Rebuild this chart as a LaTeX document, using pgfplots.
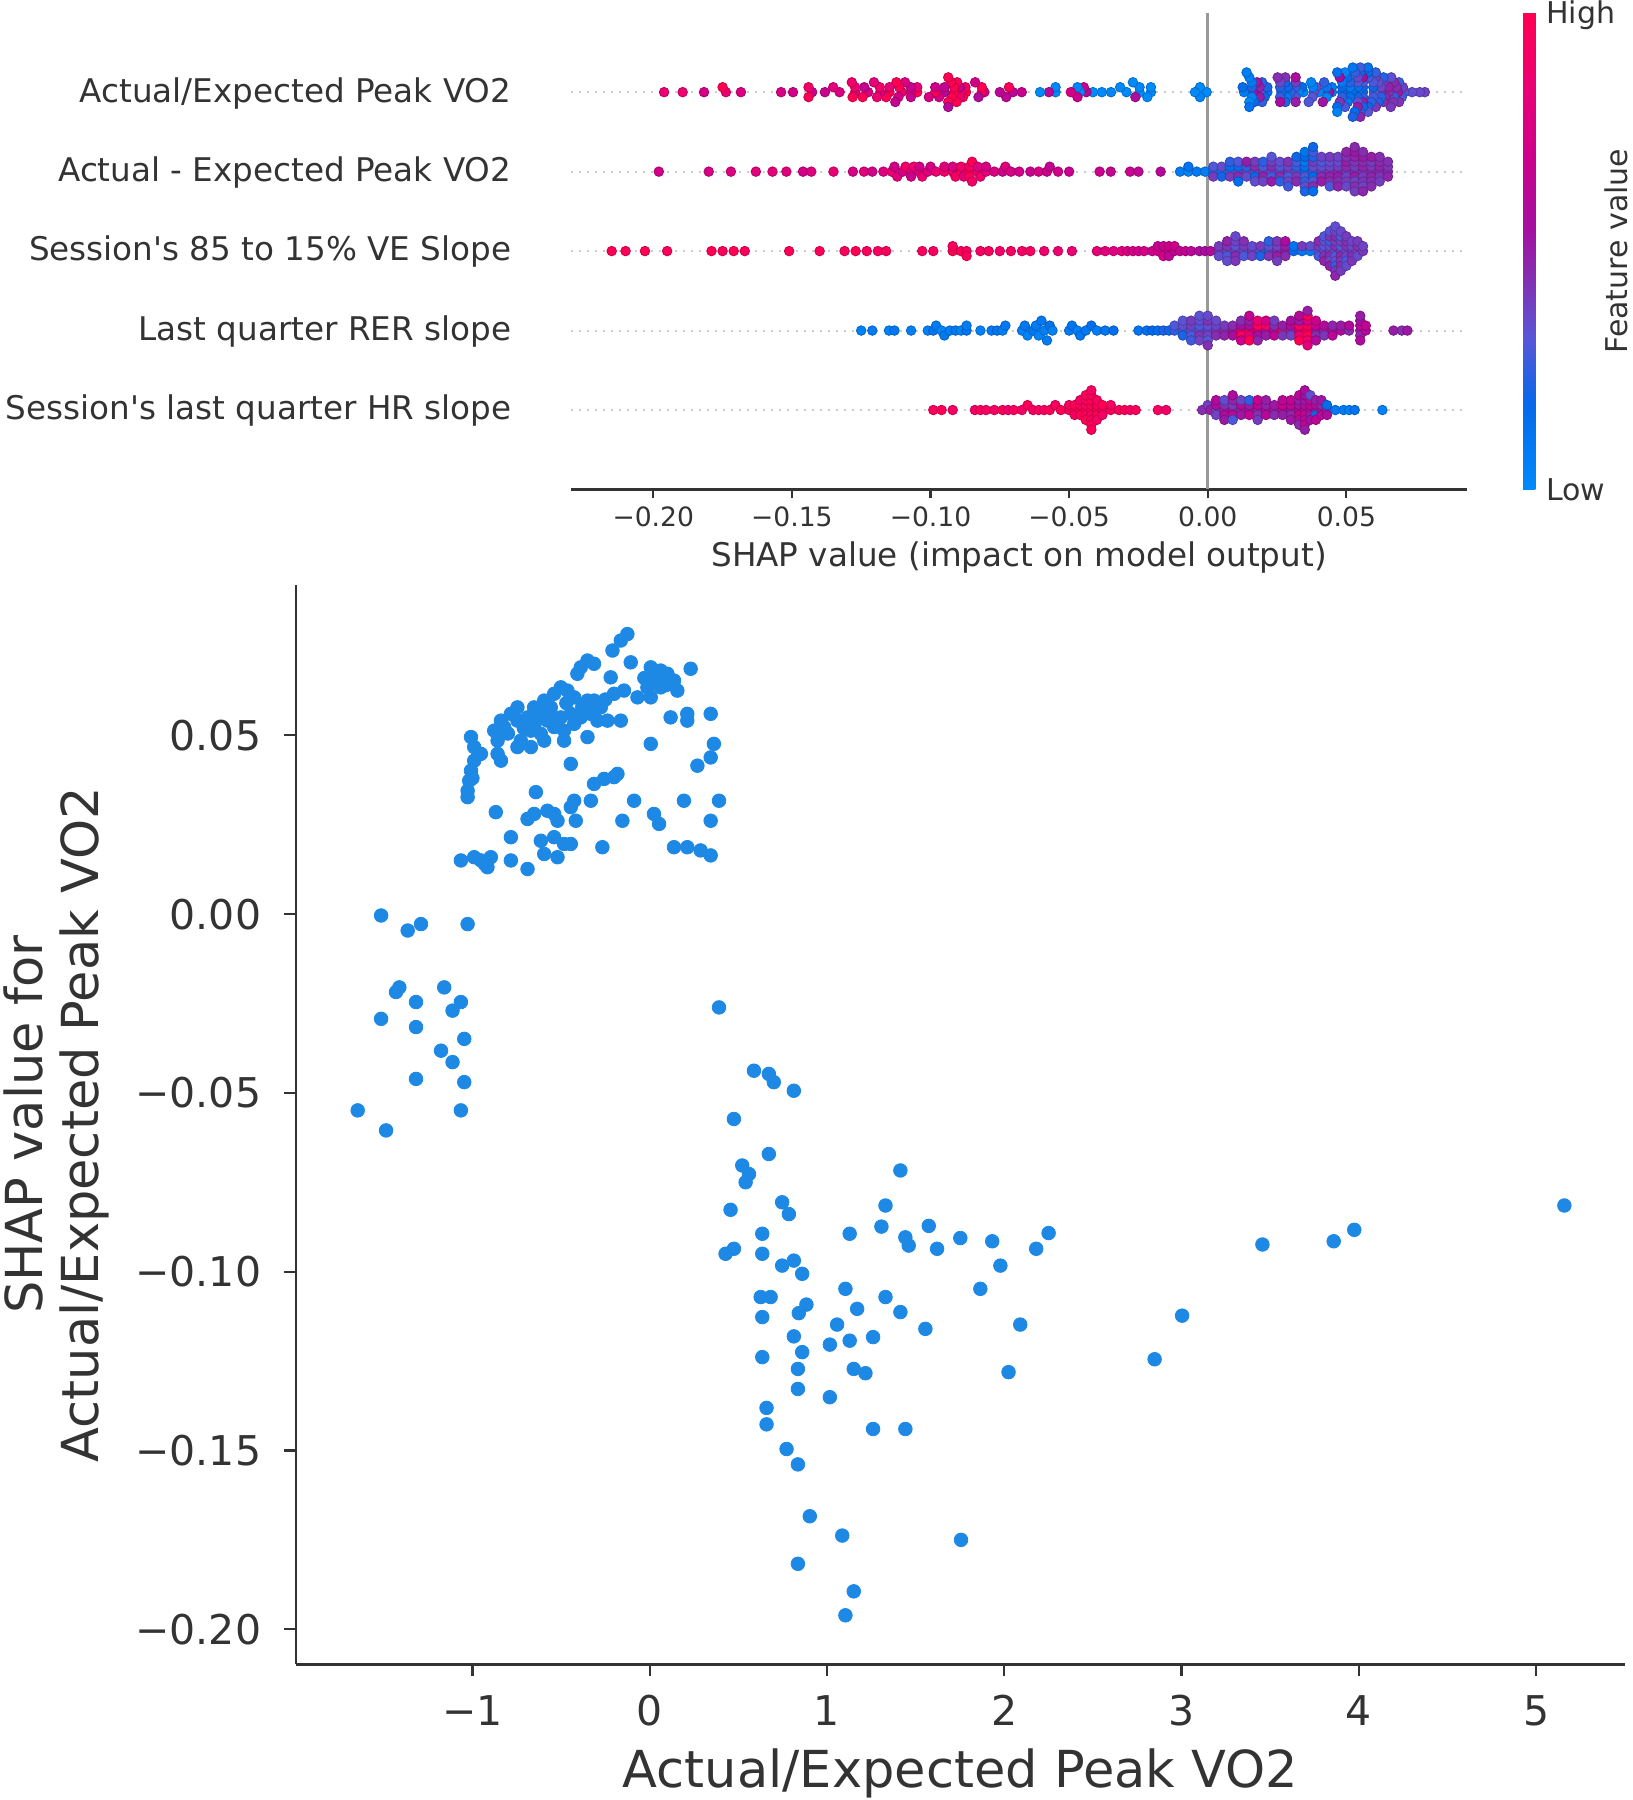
\documentclass[border=0pt]{standalone}
\usepackage{fontspec}
\setmainfont{DejaVu Sans}
\usepackage{pgfplots}
\pgfplotsset{compat=1.18}
\usepackage{pgfplotstable}
\definecolor{txt}{HTML}{333333}
\definecolor{sblue}{HTML}{1E88E5}
\definecolor{zline}{HTML}{999999}
\definecolor{dline}{HTML}{CCCCCC}
\pgfplotsset{colormap={shap}{rgb255(0pt)=(0,138,250); rgb255(18pt)=(5,105,235); rgb255(32pt)=(90,85,215); rgb255(45pt)=(135,45,175); rgb255(55pt)=(165,15,160); rgb255(70pt)=(205,0,140); rgb255(85pt)=(235,0,115); rgb255(100pt)=(255,0,82)}}
\newcommand\ftop{\fontsize{16.3}{19.5}\selectfont}
\newcommand\ftick{\fontsize{13.3}{16}\selectfont}
\newcommand\fcb{\fontsize{15}{18}\selectfont}
\newcommand\fbt{\fontsize{20.5}{24}\selectfont}
\newcommand\fbl{\fontsize{25.5}{28}\selectfont}

% dependence data: x = feature value, y = SHAP value, j = swarm layer in the summary plot
\pgfplotstableread[row sep=\\]{
x y j\\
-0.126 0.0783 0\\ -0.163 0.0765 0\\ -0.210 0.0737 0\\ -0.351 0.0709 0\\ -0.107 0.0704 1\\
-0.314 0.0700 -1\\ -0.389 0.0690 2\\ 0.006 0.0690 -2\\ 0.231 0.0686 0\\ 0.062 0.0681 1\\
-0.408 0.0672 -1\\ 0.100 0.0672 2\\ 0.040 0.0670 -2\\ -0.220 0.0662 3\\ -0.030 0.0660 -3\\
0.024 0.0653 0\\ 0.137 0.0653 1\\ 0.090 0.0640 -1\\ -0.013 0.0634 2\\ 0.062 0.0634 -2\\
-0.501 0.0634 3\\ 0.156 0.0625 0\\ -0.145 0.0625 1\\ -0.464 0.0625 -1\\ -0.201 0.0616 2\\
-0.539 0.0616 -2\\ -0.069 0.0606 3\\ 0.006 0.0606 -3\\ -0.426 0.0606 4\\ -0.250 0.0600 0\\
-0.595 0.0597 1\\ -0.351 0.0597 -1\\ -0.314 0.0597 2\\ -0.470 0.0590 -2\\ -0.380 0.0580 3\\
-0.558 0.0578 -3\\ -0.652 0.0578 4\\ -0.276 0.0578 -4\\ -0.746 0.0578 5\\ -0.783 0.0560 0\\
-0.614 0.0560 1\\ -0.445 0.0560 -1\\ -0.332 0.0560 2\\ 0.212 0.0560 -2\\ 0.344 0.0560 3\\
-0.560 0.0560 -3\\ -0.689 0.0550 4\\ -0.501 0.0550 -4\\ -0.389 0.0550 5\\ 0.118 0.0550 -5\\
-0.839 0.0541 0\\ -0.746 0.0541 1\\ -0.577 0.0541 -1\\ -0.295 0.0541 2\\ -0.238 0.0541 -2\\
-0.163 0.0541 3\\ 0.212 0.0541 -3\\ -0.426 0.0532 4\\ -0.650 0.0530 -4\\ -0.821 0.0523 5\\
-0.539 0.0523 -5\\ -0.710 0.0520 0\\ -0.877 0.0513 1\\ -0.670 0.0513 -1\\ -0.483 0.0513 2\\
-0.800 0.0505 -2\\ -0.614 0.0504 3\\ -0.351 0.0495 -3\\ -1.008 0.0495 4\\ -0.727 0.0485 0\\
-0.595 0.0485 1\\ -0.483 0.0485 -1\\ -0.858 0.0485 2\\ 0.006 0.0476 -2\\ 0.362 0.0476 3\\
-0.670 0.0467 -3\\ -0.746 0.0467 4\\ -0.990 0.0467 -4\\ -0.952 0.0448 0\\ -0.858 0.0448 1\\
0.344 0.0438 0\\ -0.839 0.0429 1\\ -0.990 0.0429 -1\\ -0.445 0.0420 2\\ 0.269 0.0415 -2\\
-1.008 0.0401 0\\ -0.182 0.0392 1\\ -0.201 0.0383 0\\ -1.000 0.0380 1\\ -0.257 0.0378 -1\\
-1.018 0.0373 2\\ -0.314 0.0364 -2\\ -1.027 0.0345 0\\ -0.642 0.0341 1\\ -1.027 0.0327 0\\
-0.426 0.0317 1\\ -0.332 0.0317 -1\\ -0.088 0.0317 2\\ 0.193 0.0317 -2\\ 0.391 0.0317 3\\
-0.445 0.0299 0\\ -0.577 0.0289 1\\ -0.868 0.0285 -1\\ -0.652 0.0280 2\\ -0.539 0.0280 -2\\
0.024 0.0280 3\\ -0.689 0.0266 0\\ -0.520 0.0261 1\\ -0.417 0.0261 -1\\ -0.154 0.0261 2\\
0.344 0.0261 -2\\ 0.053 0.0252 3\\ -0.783 0.0215 0\\ -0.539 0.0215 1\\ -0.614 0.0205 -1\\
-0.483 0.0196 2\\ -0.445 0.0196 -2\\ -0.267 0.0187 0\\ 0.137 0.0187 1\\ 0.212 0.0187 -1\\
0.287 0.0178 2\\ -0.595 0.0168 -2\\ 0.344 0.0164 0\\ -0.520 0.0159 1\\ -0.990 0.0159 -1\\
-0.896 0.0159 2\\ -1.065 0.0150 -2\\ -0.952 0.0150 3\\ -0.783 0.0150 -3\\ -0.930 0.0140 4\\
-0.915 0.0131 0\\ -0.689 0.0126 1\\
-1.515 -0.0004 0\\ -1.290 -0.0028 1\\ -1.027 -0.0028 -1\\ -1.365 -0.0046 0\\ -1.412 -0.0205 0\\
-1.159 -0.0205 1\\ -1.431 -0.0218 -1\\ -1.318 -0.0246 0\\ -1.065 -0.0246 1\\ 0.391 -0.0261 -1\\
-1.112 -0.0270 2\\ -1.515 -0.0293 0\\ -1.318 -0.0316 1\\ -1.046 -0.0349 0\\ -1.177 -0.0382 0\\
-1.112 -0.0414 0\\ 0.588 -0.0438 0\\ 0.672 -0.0447 1\\ -1.318 -0.0461 0\\ -1.046 -0.0470 1\\
0.700 -0.0470 -1\\ 0.813 -0.0494 0\\ -1.647 -0.0549 0\\ -1.065 -0.0549 1\\ 0.475 -0.0573 0\\
-1.487 -0.0605 0\\ 0.672 -0.0671 0\\ 0.522 -0.0703 0\\ 1.414 -0.0717 1\\ 0.560 -0.0727 -1\\
0.541 -0.0750 0\\ 0.747 -0.0806 0\\ 1.330 -0.0815 0\\ 5.159 -0.0815 1\\ 0.456 -0.0827 -1\\
0.785 -0.0839 2\\ 1.574 -0.0872 0\\ 1.307 -0.0874 1\\ 3.974 -0.0883 -1\\ 2.250 -0.0892 0\\
0.635 -0.0894 1\\ 1.128 -0.0894 -1\\ 1.442 -0.0904 2\\ 1.752 -0.0906 -2\\ 1.932 -0.0915 0\\
3.858 -0.0915 1\\ 3.456 -0.0924 -1\\ 1.461 -0.0927 2\\ 1.621 -0.0936 -2\\ 2.180 -0.0936 3\\
0.475 -0.0936 -3\\ 0.428 -0.0950 0\\ 0.635 -0.0950 1\\ 0.813 -0.0969 -1\\ 1.978 -0.0983 0\\
0.747 -0.0983 1\\ 0.860 -0.1006 -1\\ 1.865 -0.1048 0\\ 1.104 -0.1048 1\\ 1.330 -0.1071 0\\
0.626 -0.1071 1\\ 0.682 -0.1071 -1\\ 0.884 -0.1092 2\\ 1.170 -0.1104 0\\ 1.414 -0.1113 1\\
0.841 -0.1116 -1\\ 3.003 -0.1123 2\\ 0.635 -0.1127 -2\\ 2.090 -0.1148 0\\ 1.057 -0.1148 1\\
1.555 -0.1160 -1\\ 0.813 -0.1181 0\\ 1.260 -0.1183 1\\ 1.128 -0.1193 -1\\ 1.016 -0.1204 2\\
0.860 -0.1225 0\\ 0.635 -0.1239 1\\ 2.848 -0.1245 -1\\ 0.836 -0.1272 0\\ 1.151 -0.1272 1\\
2.024 -0.1281 -1\\ 1.217 -0.1284 2\\ 0.836 -0.1328 0\\ 1.016 -0.1351 1\\ 0.659 -0.1381 0\\
0.659 -0.1427 0\\ 1.260 -0.1440 1\\ 1.442 -0.1440 -1\\ 0.772 -0.1496 0\\ 0.836 -0.1539 0\\
0.903 -0.1684 0\\ 1.086 -0.1738 0\\ 1.756 -0.1750 1\\ 0.836 -0.1817 0\\ 1.151 -0.1894 0\\
1.104 -0.1961 0\\
}\vodata

% Actual - Expected Peak VO2: s = SHAP, j = layer, m = feature value (0 low .. 1 high)
\pgfplotstableread[row sep=\\]{
s j m\\
-0.198 0 .72\\ -0.180 0 .75\\ -0.172 0 .78\\ -0.163 0 .80\\ -0.157 0 .82\\ -0.152 0 .80\\
-0.146 0 .72\\ -0.143 0 .78\\ -0.135 0 .85\\ -0.128 0 .75\\ -0.124 0 .80\\ -0.121 0 .72\\
-0.117 0 .78\\ -0.114 0 .85\\ -0.113 1 .72\\ -0.112 -1 .80\\ -0.110 0 .75\\ -0.109 1 .90\\
-0.107 0 .82\\ -0.107 -1 .70\\ -0.106 1 .88\\ -0.104 0 .78\\ -0.104 1 .72\\ -0.103 -1 .85\\
-0.101 0 .80\\ -0.100 1 .74\\ -0.098 0 .85\\ -0.095 0 .90\\ -0.095 1 .80\\ -0.092 0 .86\\
-0.092 1 .76\\ -0.091 -1 .92\\ -0.089 0 .95\\ -0.089 1 .88\\ -0.088 -1 .80\\ -0.086 0 .98\\
-0.086 1 .92\\ -0.086 -1 .96\\ -0.085 2 1.0\\ -0.085 -2 .90\\ -0.083 0 .85\\ -0.083 1 .78\\
-0.082 -1 .88\\ -0.080 0 .82\\ -0.080 1 .75\\ -0.077 0 .76\\ -0.074 0 .70\\ -0.073 1 .80\\
-0.071 0 .74\\ -0.068 0 .72\\ -0.064 0 .68\\ -0.061 0 .75\\ -0.058 0 .70\\ -0.057 1 .66\\
-0.054 0 .72\\ -0.050 0 .68\\ -0.039 0 .70\\ -0.035 0 .66\\ -0.028 0 .68\\ -0.025 0 .64\\
-0.017 0 .62\\ -0.010 0 .08\\ -0.007 0 .05\\ -0.007 1 .12\\ -0.004 0 .10\\ -0.001 0 .06\\
0.002 0 .15\\ 0.002 1 .30\\ 0.002 -1 .40\\ 0.005 0 .10\\ 0.005 1 .35\\ 0.005 -1 .20\\
0.008 0 .30\\ 0.008 1 .15\\ 0.008 -1 .40\\ 0.008 2 .25\\ 0.011 0 .35\\ 0.011 1 .20\\
0.011 -1 .45\\ 0.011 2 .30\\ 0.011 -2 .15\\ 0.014 0 .40\\ 0.014 1 .25\\ 0.014 -1 .35\\
0.014 2 .50\\ 0.017 0 .30\\ 0.017 1 .45\\ 0.017 -1 .20\\ 0.017 2 .40\\ 0.017 -2 .35\\
0.020 0 .42\\ 0.020 1 .30\\ 0.020 -1 .48\\ 0.020 2 .25\\ 0.020 -2 .38\\ 0.023 0 .35\\
0.023 1 .45\\ 0.023 -1 .28\\ 0.023 2 .40\\ 0.023 -2 .50\\ 0.023 3 .32\\ 0.026 0 .40\\
0.026 1 .30\\ 0.026 -1 .45\\ 0.026 2 .35\\ 0.026 -2 .25\\ 0.029 0 .45\\ 0.029 1 .38\\
0.029 -1 .30\\ 0.029 2 .42\\ 0.029 -2 .36\\ 0.029 -3 .28\\ 0.032 0 .35\\ 0.032 1 .25\\
0.032 -1 .40\\ 0.032 2 .30\\ 0.032 -2 .45\\ 0.032 3 .20\\ 0.035 0 .20\\ 0.035 1 .15\\
0.035 -1 .30\\ 0.035 2 .10\\ 0.035 -2 .25\\ 0.035 3 .18\\ 0.035 -3 .35\\ 0.035 4 .12\\
0.035 -4 .22\\ 0.038 0 .25\\ 0.038 1 .35\\ 0.038 -1 .18\\ 0.038 2 .40\\ 0.038 -2 .30\\
0.038 3 .22\\ 0.038 -3 .45\\ 0.038 4 .28\\ 0.038 -4 .15\\ 0.038 5 .20\\ 0.041 0 .40\\
0.041 1 .35\\ 0.041 -1 .45\\ 0.041 2 .30\\ 0.041 -2 .50\\ 0.041 3 .38\\ 0.044 0 .42\\
0.044 1 .38\\ 0.044 -1 .48\\ 0.044 2 .35\\ 0.044 -2 .45\\ 0.044 3 .40\\ 0.044 -3 .30\\
0.047 0 .45\\ 0.047 1 .40\\ 0.047 -1 .50\\ 0.047 2 .36\\ 0.047 -2 .44\\ 0.047 3 .38\\
0.047 -3 .48\\ 0.050 0 .42\\ 0.050 1 .46\\ 0.050 -1 .38\\ 0.050 2 .50\\ 0.050 -2 .40\\
0.050 3 .44\\ 0.050 -3 .36\\ 0.050 4 .48\\ 0.053 0 .45\\ 0.053 1 .40\\ 0.053 -1 .50\\
0.053 2 .42\\ 0.053 -2 .38\\ 0.053 3 .48\\ 0.053 -3 .44\\ 0.053 4 .52\\ 0.053 -4 .40\\
0.053 5 .46\\ 0.056 0 .44\\ 0.056 1 .48\\ 0.056 -1 .40\\ 0.056 2 .46\\ 0.056 -2 .42\\
0.056 3 .50\\ 0.056 -3 .38\\ 0.056 4 .45\\ 0.056 -4 .47\\ 0.059 0 .46\\ 0.059 1 .42\\
0.059 -1 .48\\ 0.059 2 .40\\ 0.059 -2 .44\\ 0.059 3 .50\\ 0.059 -3 .45\\ 0.062 0 .44\\
0.062 1 .48\\ 0.062 -1 .42\\ 0.062 2 .46\\ 0.062 -2 .40\\ 0.062 3 .45\\ 0.065 0 .46\\
0.065 1 .42\\ 0.065 -1 .48\\ 0.065 2 .44\\
}\rthree

% Session's 85 to 15% VE Slope
\pgfplotstableread[row sep=\\]{
s j m\\
-0.215 0 .98\\ -0.210 0 .97\\ -0.203 0 .99\\ -0.195 0 .96\\ -0.179 0 .98\\ -0.175 0 .97\\
-0.171 0 .99\\ -0.167 0 .96\\ -0.151 0 .98\\ -0.140 0 .97\\ -0.131 0 .95\\ -0.127 0 .98\\
-0.123 0 .96\\ -0.119 0 .94\\ -0.116 0 .97\\ -0.103 0 .95\\ -0.099 0 .93\\ -0.092 0 .98\\
-0.092 1 .96\\ -0.089 0 .99\\ -0.087 0 .94\\ -0.087 -1 .97\\ -0.082 0 .92\\ -0.079 0 .95\\
-0.075 0 .90\\ -0.071 0 .93\\ -0.067 0 .91\\ -0.064 0 .94\\ -0.059 0 .88\\ -0.054 0 .86\\
-0.049 0 .84\\ -0.040 0 .82\\ -0.037 0 .80\\ -0.034 0 .78\\ -0.031 0 .80\\ -0.029 0 .76\\
-0.027 0 .74\\ -0.025 0 .72\\ -0.023 0 .74\\ -0.020 0 .70\\ -0.018 0 .72\\ -0.018 1 .68\\
-0.016 0 .70\\ -0.016 1 .66\\ -0.016 -1 .74\\ -0.014 0 .68\\ -0.014 1 .72\\ -0.014 -1 .64\\
-0.012 0 .66\\ -0.012 1 .70\\ -0.010 0 .65\\ -0.008 0 .66\\ -0.006 0 .62\\ -0.003 0 .58\\
-0.001 0 .55\\ 0.001 0 .60\\
0.004 0 .45\\ 0.004 1 .40\\ 0.004 -1 .35\\ 0.007 0 .38\\ 0.007 1 .42\\ 0.007 -1 .30\\
0.007 2 .48\\ 0.007 -2 .35\\ 0.010 0 .40\\ 0.010 1 .33\\ 0.010 -1 .45\\ 0.010 2 .38\\
0.010 -2 .42\\ 0.010 3 .36\\ 0.013 0 .36\\ 0.013 1 .40\\ 0.013 -1 .30\\ 0.013 2 .44\\
0.016 0 .42\\ 0.016 1 .35\\ 0.016 -1 .38\\ 0.019 0 .30\\ 0.019 1 .40\\ 0.019 -1 .22\\
0.022 0 .18\\ 0.022 1 .35\\ 0.022 -1 .42\\ 0.022 2 .25\\ 0.025 0 .45\\ 0.025 1 .38\\
0.025 -1 .50\\ 0.025 2 .42\\ 0.025 -2 .40\\ 0.028 0 .55\\ 0.028 1 .50\\ 0.028 -1 .45\\
0.028 2 .58\\ 0.031 0 .20\\ 0.031 1 .12\\ 0.034 0 .10\\ 0.034 1 .40\\ 0.037 0 .08\\
0.037 1 .35\\
0.040 0 .35\\ 0.040 1 .40\\ 0.040 -1 .30\\ 0.040 2 .45\\ 0.042 0 .38\\ 0.042 1 .32\\
0.042 -1 .42\\ 0.042 2 .36\\ 0.042 -2 .48\\ 0.042 3 .30\\ 0.044 0 .40\\ 0.044 1 .35\\
0.044 -1 .45\\ 0.044 2 .28\\ 0.044 -2 .38\\ 0.044 3 .42\\ 0.044 -3 .50\\ 0.044 4 .33\\
0.046 0 .36\\ 0.046 1 .44\\ 0.046 -1 .30\\ 0.046 2 .40\\ 0.046 -2 .35\\ 0.046 3 .46\\
0.046 -3 .25\\ 0.046 4 .38\\ 0.046 -4 .42\\ 0.046 5 .34\\ 0.046 -5 .48\\ 0.048 0 .40\\
0.048 1 .32\\ 0.048 -1 .46\\ 0.048 2 .38\\ 0.048 -2 .42\\ 0.048 3 .30\\ 0.048 -3 .45\\
0.048 4 .36\\ 0.048 -4 .40\\ 0.050 0 .35\\ 0.050 1 .42\\ 0.050 -1 .38\\ 0.050 2 .44\\
0.050 -2 .30\\ 0.050 3 .40\\ 0.050 -3 .36\\ 0.052 0 .40\\ 0.052 1 .36\\ 0.052 -1 .44\\
0.052 2 .38\\ 0.052 -2 .42\\ 0.054 0 .38\\ 0.054 1 .44\\ 0.054 -1 .36\\ 0.054 2 .40\\
0.056 0 .42\\ 0.056 1 .38\\
}\rtwo

% Last quarter RER slope
\pgfplotstableread[row sep=\\]{
s j m\\
-0.125 0 .05\\ -0.121 0 .08\\ -0.115 0 .04\\ -0.113 0 .10\\ -0.107 0 .06\\ -0.101 0 .05\\
-0.099 0 .12\\ -0.098 1 .08\\ -0.096 0 .03\\ -0.095 -1 .10\\ -0.093 0 .06\\ -0.091 0 .09\\
-0.089 0 .04\\ -0.087 0 .11\\ -0.087 1 .07\\ -0.082 0 .05\\ -0.078 0 .08\\ -0.076 0 .12\\
-0.074 0 .06\\ -0.073 1 .10\\ -0.067 0 .05\\ -0.066 1 .09\\ -0.065 -1 .04\\ -0.063 0 .11\\
-0.062 1 .07\\ -0.061 -1 .03\\ -0.060 2 .10\\ -0.059 0 .06\\ -0.058 -2 .08\\ -0.057 1 .12\\
-0.056 0 .05\\ -0.050 0 .08\\ -0.049 1 .12\\ -0.047 0 .06\\ -0.046 -1 .10\\ -0.044 0 .09\\
-0.042 1 .14\\ -0.040 0 .07\\ -0.037 0 .11\\ -0.034 0 .15\\ -0.025 0 .12\\ -0.022 0 .14\\
-0.020 0 .18\\ -0.018 0 .16\\ -0.016 0 .22\\ -0.014 0 .20\\
-0.012 0 .25\\ -0.012 1 .30\\ -0.009 0 .28\\ -0.009 1 .35\\ -0.009 -1 .22\\ -0.009 2 .32\\
-0.006 0 .33\\ -0.006 1 .38\\ -0.006 -1 .30\\ -0.006 2 .40\\ -0.006 -2 .28\\ -0.003 0 .36\\
-0.003 1 .30\\ -0.003 -1 .42\\ -0.003 2 .35\\ -0.003 -2 .38\\ -0.003 3 .33\\ 0.000 0 .40\\
0.000 1 .34\\ 0.000 -1 .38\\ 0.000 2 .42\\ 0.000 -2 .32\\ 0.000 3 .36\\ 0.000 -3 .44\\
0.003 0 .42\\ 0.003 1 .38\\ 0.003 -1 .45\\ 0.003 2 .36\\ 0.006 0 .45\\ 0.006 1 .40\\
0.006 -1 .48\\ 0.009 0 .50\\ 0.009 1 .45\\ 0.009 -1 .55\\
0.012 0 .85\\ 0.012 1 .55\\ 0.012 -1 .95\\ 0.012 2 .45\\ 0.012 -2 .70\\ 0.015 0 .95\\
0.015 1 .60\\ 0.015 -1 .80\\ 0.015 2 .50\\ 0.015 -2 1.0\\ 0.015 3 .65\\ 0.018 0 .70\\
0.018 1 .98\\ 0.018 -1 .55\\ 0.018 2 .85\\ 0.018 -2 .48\\ 0.021 0 .60\\ 0.021 1 .90\\
0.021 -1 .50\\ 0.021 2 .75\\ 0.024 0 .55\\ 0.024 1 .45\\ 0.024 -1 .65\\ 0.024 2 .40\\
0.027 0 .95\\ 0.027 1 .50\\ 0.027 -1 .42\\ 0.030 0 .48\\ 0.030 1 .60\\ 0.030 -1 .38\\
0.030 2 .55\\ 0.033 0 .70\\ 0.033 1 .95\\ 0.033 -1 .85\\ 0.033 2 .52\\ 0.033 -2 .98\\
0.033 3 .60\\ 0.036 0 1.0\\ 0.036 1 .92\\ 0.036 -1 .98\\ 0.036 2 .75\\ 0.036 -2 .88\\
0.036 3 .96\\ 0.036 -3 .80\\ 0.036 4 .50\\ 0.039 0 .55\\ 0.039 1 .65\\ 0.039 -1 .45\\
0.039 2 .70\\ 0.039 -2 .60\\ 0.042 0 .50\\ 0.042 1 .60\\ 0.042 -1 .42\\ 0.045 0 .55\\
0.045 1 .48\\ 0.045 -1 .62\\ 0.048 0 .58\\ 0.048 1 .50\\ 0.051 0 .45\\ 0.051 1 .60\\
0.055 0 .52\\ 0.055 1 .62\\ 0.055 -1 .48\\ 0.055 2 .55\\ 0.055 -2 .58\\ 0.055 3 .50\\
0.057 0 .60\\ 0.057 1 .65\\ 0.067 0 .50\\ 0.070 0 .45\\ 0.072 0 .52\\
}\rone

% Session's last quarter HR slope
\pgfplotstableread[row sep=\\]{
s j m\\
-0.099 0 .95\\ -0.096 0 .98\\ -0.092 0 .92\\ -0.084 0 .90\\ -0.082 0 .96\\ -0.080 0 .93\\
-0.077 0 .94\\ -0.074 0 .97\\ -0.072 0 .88\\ -0.070 0 .95\\ -0.067 0 .92\\ -0.065 1 .98\\
-0.063 0 .90\\ -0.061 0 .96\\ -0.059 0 .93\\ -0.057 0 .98\\ -0.055 1 .94\\ -0.053 0 .97\\
-0.050 0 .98\\ -0.050 1 .95\\ -0.048 0 .96\\ -0.048 1 1.0\\ -0.048 -1 .93\\ -0.046 0 .99\\
-0.046 1 .95\\ -0.046 -1 .97\\ -0.046 2 .92\\ -0.044 0 1.0\\ -0.044 1 .96\\ -0.044 -1 .98\\
-0.044 2 .94\\ -0.044 -2 .99\\ -0.044 3 .97\\ -0.042 0 .97\\ -0.042 1 .99\\ -0.042 -1 .95\\
-0.042 2 1.0\\ -0.042 -2 .93\\ -0.042 3 .96\\ -0.042 -3 .98\\ -0.042 4 .94\\ -0.042 -4 .97\\
-0.040 0 .98\\ -0.040 1 .95\\ -0.040 -1 .99\\ -0.040 2 .96\\ -0.040 -2 .94\\ -0.038 0 .96\\
-0.038 1 .99\\ -0.038 -1 .93\\ -0.035 0 .97\\ -0.035 1 .94\\ -0.032 0 .95\\ -0.030 0 .98\\
-0.028 0 .92\\ -0.026 0 .96\\ -0.018 0 .93\\ -0.015 0 .90\\
-0.002 0 .45\\ 0.000 1 .40\\ 0.001 0 .50\\ 0.003 0 .42\\ 0.003 1 .55\\ 0.003 -1 .38\\
0.003 2 .60\\ 0.006 0 .50\\ 0.006 1 .45\\ 0.006 -1 .58\\ 0.006 2 .35\\ 0.006 -2 .52\\
0.009 0 .55\\ 0.009 1 .40\\ 0.009 -1 .62\\ 0.009 2 .48\\ 0.009 -2 .30\\ 0.009 3 .58\\
0.012 0 .45\\ 0.012 1 .60\\ 0.012 -1 .52\\ 0.012 2 .38\\ 0.015 0 .58\\ 0.015 1 .50\\
0.015 -1 .65\\ 0.015 2 .25\\ 0.018 0 .52\\ 0.018 1 .62\\ 0.018 -1 .44\\ 0.018 2 .68\\
0.018 -2 .40\\ 0.021 0 .55\\ 0.021 1 .48\\ 0.021 -1 .62\\ 0.021 2 .50\\ 0.024 0 .60\\
0.024 1 .52\\ 0.024 -1 .45\\ 0.027 0 .58\\ 0.027 1 .68\\ 0.027 -1 .50\\ 0.027 2 .62\\
0.030 0 .55\\ 0.030 1 .62\\ 0.030 -1 .48\\ 0.030 2 .65\\ 0.030 -2 .52\\ 0.033 0 .60\\
0.033 1 .54\\ 0.033 -1 .66\\ 0.033 2 .50\\ 0.033 -2 .58\\ 0.033 3 .62\\ 0.033 -3 .45\\
0.035 0 .62\\ 0.035 1 .56\\ 0.035 -1 .68\\ 0.035 2 .52\\ 0.035 -2 .60\\ 0.035 3 .55\\
0.035 -3 .65\\ 0.035 4 .58\\ 0.035 -4 .50\\ 0.037 0 .58\\ 0.037 1 .64\\ 0.037 -1 .52\\
0.037 2 .60\\ 0.037 -2 .55\\ 0.037 3 .35\\ 0.039 0 .55\\ 0.039 1 .60\\ 0.039 -1 .20\\
0.039 2 .50\\ 0.039 -2 .62\\ 0.041 0 .56\\ 0.041 1 .48\\ 0.041 -1 .62\\ 0.041 2 .52\\
0.043 0 .50\\ 0.043 1 .15\\ 0.043 -1 .58\\ 0.046 0 .10\\ 0.049 0 .08\\ 0.051 0 .06\\
0.053 0 .12\\ 0.063 0 .05\\
}\rzero

\begin{document}
\begin{tikzpicture}
\useasboundingbox (0,0) rectangle (816.5pt,900pt);
% ---------------- summary (beeswarm) plot ----------------
\begin{axis}[
  at={(285.75pt,655.25pt)}, anchor=south west,
  scale only axis, width=447.6pt, height=238.4pt,
  xmin=-0.2295, xmax=0.0934, ymin=-1, ymax=5,
  clip=false,
  axis x line*=bottom, axis y line*=left,
  x axis line style={-, txt, line width=1.4pt},
  y axis line style={draw=none},
  xtick={-0.2,-0.15,-0.1,-0.05,0,0.05},
  xticklabels={−0.20,−0.15,−0.10,−0.05,0.00,0.05},
  ytick={0,1,2,3,4},
  yticklabels={Session\textquotesingle s last quarter HR slope, Last quarter RER slope, Session\textquotesingle s 85 to 15\% VE Slope, Actual - Expected Peak VO2, Actual/Expected Peak VO2},
  tick align=outside,
  xtick style={txt, line width=1.1pt},
  ytick style={draw=none},
  major tick length=4.5pt,
  xticklabel style={font=\ftick, text=txt, anchor=base, inner sep=0pt, yshift=-14.1pt},
  yticklabel style={font=\ftop, text=txt, anchor=base east, inner sep=0pt, xshift=-25.4pt, yshift=-4.95pt},
  xlabel={SHAP value (impact on model output)},
  xlabel style={at={(rel axis cs:0.5,0)}, anchor=base, inner sep=0pt, yshift=-38.5pt, font=\ftop, text=txt},
  colormap name=shap, point meta min=0, point meta max=1,
  colorbar,
  colorbar style={
    at={(parent axis.north east)}, anchor=north west, xshift=19.65pt,
    scale only axis, width=6.2pt, height=238.4pt,
    ytick={0,1}, yticklabels={Low,High},
    axis line style={draw=none},
    major tick length=0pt,
    ytick style={draw=none},
    yticklabel style={font=\fcb, text=txt, anchor=base west, inner sep=0pt, xshift=5.2pt, yshift=-5.4pt},
  },
]
\addplot[dline, line width=1pt, dash pattern=on 1pt off 3pt] coordinates {(-0.2295,0) (0.0934,0)};
\addplot[dline, line width=1pt, dash pattern=on 1pt off 3pt] coordinates {(-0.2295,1) (0.0934,1)};
\addplot[dline, line width=1pt, dash pattern=on 1pt off 3pt] coordinates {(-0.2295,2) (0.0934,2)};
\addplot[dline, line width=1pt, dash pattern=on 1pt off 3pt] coordinates {(-0.2295,3) (0.0934,3)};
\addplot[dline, line width=1pt, dash pattern=on 1pt off 3pt] coordinates {(-0.2295,4) (0.0934,4)};
\addplot[zline, line width=1.4pt] coordinates {(0,-1) (0,5)};
\addplot[scatter, only marks, mark=*, mark size=2.4pt, scatter src=explicit]
  table[x=s, y expr={0+0.062*\thisrow{j}}, meta=m] {\rzero};
\addplot[scatter, only marks, mark=*, mark size=2.4pt, scatter src=explicit]
  table[x=s, y expr={1+0.062*\thisrow{j}}, meta=m] {\rone};
\addplot[scatter, only marks, mark=*, mark size=2.4pt, scatter src=explicit]
  table[x=s, y expr={2+0.062*\thisrow{j}}, meta=m] {\rtwo};
\addplot[scatter, only marks, mark=*, mark size=2.4pt, scatter src=explicit]
  table[x=s, y expr={3+0.062*\thisrow{j}}, meta=m] {\rthree};
\addplot[scatter, only marks, mark=*, mark size=2.4pt, scatter src=explicit]
  table[x=y, y expr={4+0.062*\thisrow{j}}, meta expr={max(0,min(1,(\thisrow{x}+1.1)/2.6))}] {\vodata};
\node[rotate=90, anchor=center, inner sep=0pt, font=\fcb, text=txt] at (rel axis cs:1.1672,0.5) {Feature value};
\end{axis}
% ---------------- dependence plot ----------------
\begin{axis}[
  at={(148pt,67.85pt)}, anchor=south west,
  scale only axis, width=664.4pt, height=539.6pt,
  xmin=-1.995, xmax=5.50, ymin=-0.2098, ymax=0.0920,
  clip=false,
  axis x line*=bottom, axis y line*=left,
  x axis line style={-, txt, line width=1.4pt},
  y axis line style={-, txt, line width=1.4pt},
  tick align=outside, major tick length=6pt,
  tick style={txt, line width=1.1pt},
  xtick={-1,0,1,2,3,4,5}, xticklabels={−1,0,1,2,3,4,5},
  ytick={-0.2,-0.15,-0.1,-0.05,0,0.05},
  yticklabels={−0.20,−0.15,−0.10,−0.05,0.00,0.05},
  xticklabel style={font=\fbt, text=txt, anchor=base, inner sep=0pt, yshift=-24.5pt},
  yticklabel style={font=\fbt, text=txt, anchor=base east, inner sep=0pt, xshift=-11.25pt, yshift=-7.5pt},
  xlabel={Actual/Expected Peak VO2},
  xlabel style={at={(rel axis cs:0.5,0)}, anchor=base, inner sep=0pt, yshift=-61.5pt, font=\fbl, text=txt},
  ylabel={SHAP value for\\Actual/Expected Peak VO2},
  ylabel style={at={(rel axis cs:-0.1805,0.5)}, anchor=center, align=center, inner sep=0pt, font=\fbl, text=txt},
]
\addplot[only marks, mark=*, mark size=3.4pt, color=sblue] table[x=x, y=y] {\vodata};
\end{axis}
\end{tikzpicture}
\end{document}
